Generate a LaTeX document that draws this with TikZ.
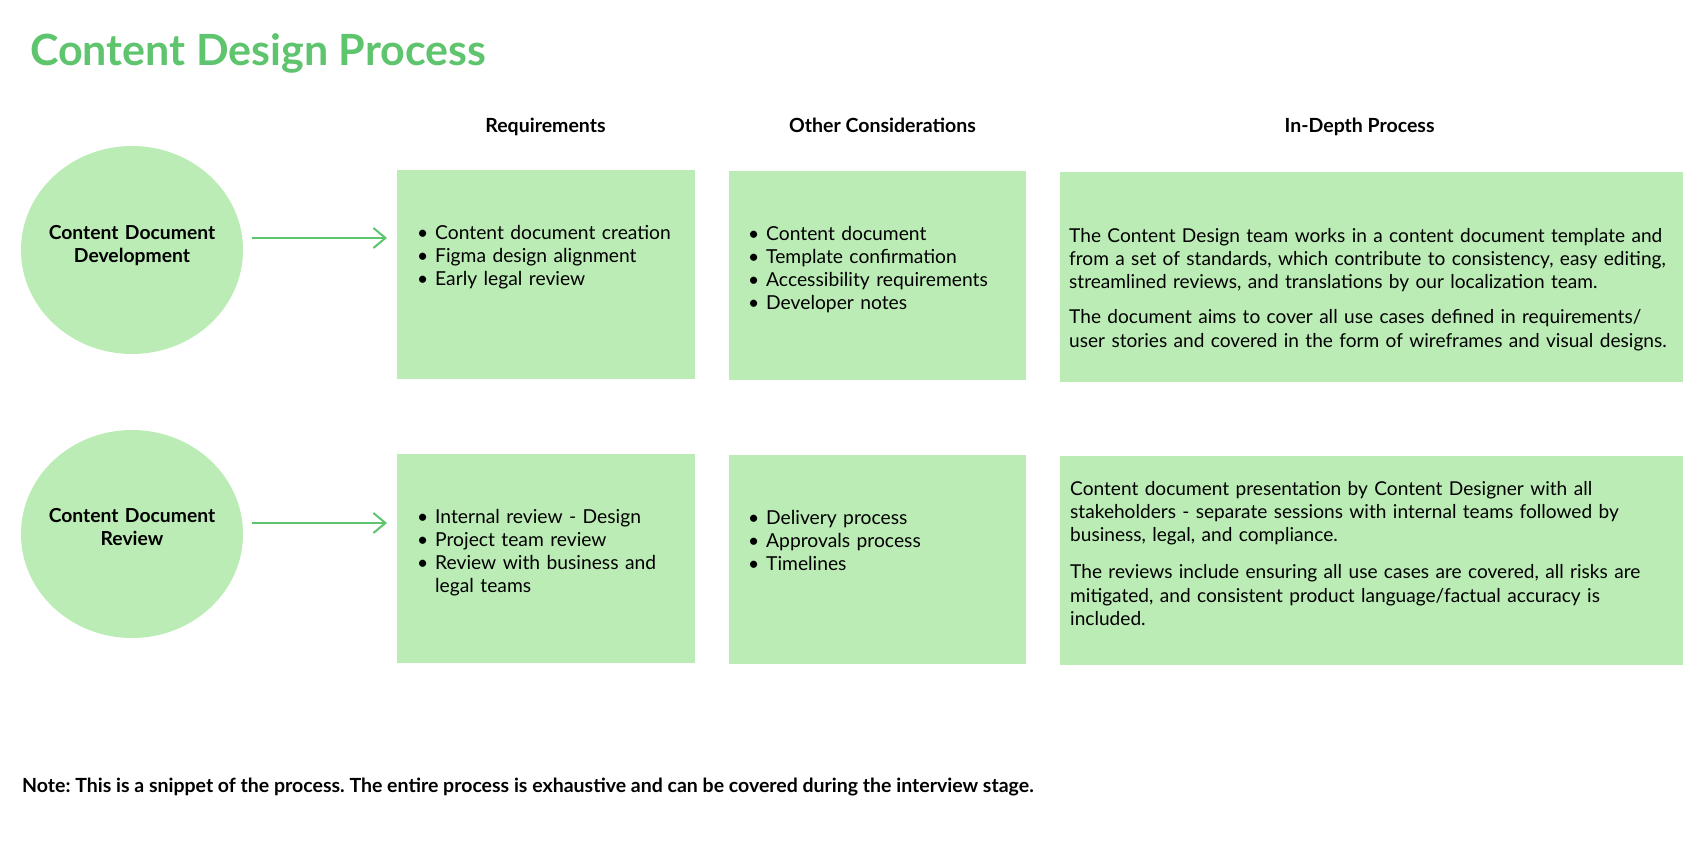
\documentclass[tikz,border=0pt]{standalone}
\usepackage{fontspec}
\setmainfont{Lato}
\usetikzlibrary{arrows.meta,calc,shapes.geometric}
\definecolor{boxgreen}{RGB}{188,236,181}
\definecolor{titlegreen}{RGB}{94,196,110}
\newcommand\bitem{\makebox[18pt][l]{\textbullet}}
\frenchspacing
\begin{document}
\begin{tikzpicture}[x=1pt,y=-1pt,
  card/.style={fill=boxgreen,rectangle,inner sep=0pt,outer sep=0pt,anchor=north west},
  oval/.style={ellipse,fill=boxgreen,minimum width=222pt,minimum height=208pt,inner sep=0pt,outer sep=0pt},
  body/.style={anchor=base west,inner sep=0pt,align=left,text width=620pt,font=\frenchspacing\fontsize{19.25}{23.3}\selectfont},
  para/.style={body,font=\frenchspacing\fontsize{19.1}{23.3}\selectfont},
  head/.style={anchor=base,inner sep=0pt,font=\bfseries\fontsize{19.5}{24}\selectfont},
  ovtext/.style={anchor=base,inner sep=0pt,align=center,text width=222pt,font=\bfseries\fontsize{19.3}{23}\selectfont},
  arr/.style={draw=titlegreen,line width=2pt,-{Straight Barb[length=12pt,width=20pt]}}]
\useasboundingbox (0,0) rectangle (1700,854);

% title
\node[anchor=base west,inner sep=0pt,text=titlegreen,font=\bfseries\fontsize{43}{48}\selectfont] (title) at (30,65) {Content Design Process};

% headings
\node[head] (h1) at (545.5,132) {Requirements};
\node[head] (h2) at (882.5,132) {Other Considerations};
\node[head] (h3) at (1359.6,132) {In-Depth Process};

% row 1
\node[oval] (e1) at (132,250) {};
\node[ovtext] (e1t) at (132,239) {Content Document\\Development};
\node[card,minimum width=298pt,minimum height=209pt] (b1) at (397,170) {};
\node[card,minimum width=297pt,minimum height=209pt] (b2) at (729,171) {};
\node[card,minimum width=623pt,minimum height=210pt] (b3) at (1060,172) {};
\node[body] (t1) at (417,239) {\bitem Content document creation\\\bitem Figma design alignment\\\bitem Early legal review};
\node[body] (t2) at (748,240) {\bitem Content document\\\bitem Template confirmation\\\bitem Accessibility requirements\\\bitem Developer notes};
\node[para] (t3) at (1069,242) {The Content Design team works in a content document template and\\from a set of standards, which contribute to consistency, easy editing,\\streamlined reviews, and translations by our localization team.\\[12pt]The document aims to cover all use cases defined in requirements/\\user stories and covered in the form of wireframes and visual designs.};

% row 2
\node[oval] (e2) at (132,534) {};
\node[ovtext] (e2t) at (132,522) {Content Document\\Review};
\node[card,minimum width=298pt,minimum height=209pt] (c1) at (397,454) {};
\node[card,minimum width=297pt,minimum height=209pt] (c2) at (729,455) {};
\node[card,minimum width=623pt,minimum height=209pt] (c3) at (1060,456) {};
\node[body] (r1) at (417,523) {\bitem Internal review - Design\\\bitem Project team review\\\bitem Review with business and\\\hspace*{18pt}legal teams};
\node[body] (r2) at (748,524) {\bitem Delivery process\\\bitem Approvals process\\\bitem Timelines};
\node[para] (r3) at (1070,495) {Content document presentation by Content Designer with all\\stakeholders - separate sessions with internal teams followed by\\business, legal, and compliance.\\[14pt]The reviews include ensuring all use cases are covered, all risks are\\mitigated, and consistent product language/factual accuracy is\\included.};

% arrows
\draw[arr] ($(e1.east)+(9,-12)$) -- ($(b1.west |- e1.east)+(-10,-12)$);
\draw[arr] ($(e2.east)+(9,-11)$) -- ($(c1.west |- e2.east)+(-10,-11)$);

% note
\node[anchor=base west,inner sep=0pt,font=\frenchspacing\bfseries\fontsize{19.5}{23}\selectfont] (note) at (22,792) {Note: This is a snippet of the process. The entire process is exhaustive and can be covered during the interview stage.};
\end{tikzpicture}
\end{document}
